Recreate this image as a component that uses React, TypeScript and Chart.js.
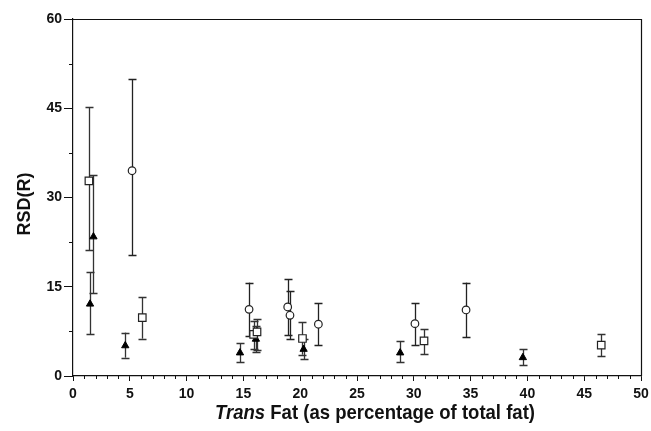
import React, { useEffect, useRef } from "react";
import { Chart, registerables } from "chart.js";

Chart.register(...registerables);

// Open squares
const sqX = [1.4, 6.1, 15.9, 16.2, 20.2, 30.9, 46.5];
const sqY = [32.8, 9.8, 7.0, 7.4, 6.3, 5.9, 5.2];
const sqLo = [21.1, 6.3, 4.6, 4.4, 3.6, 3.7, 3.4];
const sqHi = [45.2, 13.2, 9.2, 9.6, 9.0, 7.9, 7.1];

// Open circles
const ciX = [5.2, 15.5, 18.9, 19.1, 21.6, 30.1, 34.6];
const ciY = [34.5, 11.2, 11.6, 10.2, 8.7, 8.8, 11.1];
const ciLo = [20.3, 6.7, 6.9, 6.2, 5.2, 5.2, 6.6];
const ciHi = [49.9, 15.7, 16.3, 14.3, 12.2, 12.3, 15.7];

// Filled triangles
const trX = [1.5, 1.8, 4.6, 14.7, 16.1, 20.3, 28.8, 39.6];
const trY = [12.1, 23.4, 5.1, 3.9, 6.2, 4.5, 3.9, 3.1];
const trLo = [7.1, 14.0, 3.1, 2.35, 4.0, 2.8, 2.4, 1.85];
const trHi = [17.5, 33.7, 7.3, 5.5, 8.4, 6.3, 5.8, 4.5];

const xTicksMajor = [0, 5, 10, 15, 20, 25, 30, 35, 40, 45, 50];
const yTicksMajor = [0, 15, 30, 45, 60];

const xTitleItalic = "Trans";
const xTitleRest = " Fat (as percentage of total fat)";
const yTitle = "RSD(R)";

const FONT = "'Liberation Sans', Arial, sans-serif";

const pts = (xs: number[], ys: number[]) => xs.map((x, i) => ({ x, y: ys[i] }));

const decor = {
  id: "decor",
  beforeDatasetsDraw(chart: any) {
    const { ctx, scales } = chart;
    const xs = scales.x;
    const ys = scales.y;
    const series = [
      { X: sqX, lo: sqLo, hi: sqHi, color: "#333" },
      { X: ciX, lo: ciLo, hi: ciHi, color: "#222" },
      { X: trX, lo: trLo, hi: trHi, color: "#333" },
    ];
    ctx.save();
    ctx.lineWidth = 1.3;
    for (const s of series) {
      ctx.strokeStyle = s.color;
      s.X.forEach((xv: number, i: number) => {
        const px = Math.round(xs.getPixelForValue(xv)) + 0.5;
        const pl = ys.getPixelForValue(s.lo[i]);
        const ph = ys.getPixelForValue(s.hi[i]);
        ctx.beginPath();
        ctx.moveTo(px, pl);
        ctx.lineTo(px, ph);
        ctx.moveTo(px - 4, Math.round(pl) + 0.5);
        ctx.lineTo(px + 4, Math.round(pl) + 0.5);
        ctx.moveTo(px - 4, Math.round(ph) + 0.5);
        ctx.lineTo(px + 4, Math.round(ph) + 0.5);
        ctx.stroke();
      });
    }
    ctx.restore();
  },
  afterDraw(chart: any) {
    const { ctx, chartArea, scales } = chart;
    const xs = scales.x;
    const ys = scales.y;
    ctx.save();
    ctx.strokeStyle = "#111";
    ctx.lineWidth = 1.2;
    ctx.beginPath();
    ctx.moveTo(chartArea.left, chartArea.top + 0.5);
    ctx.lineTo(chartArea.right + 0.5, chartArea.top + 0.5);
    ctx.lineTo(chartArea.right + 0.5, chartArea.bottom);
    ctx.stroke();
    // minor ticks
    ctx.lineWidth = 1;
    ctx.beginPath();
    for (let v = 1; v < 50; v++) {
      if (v % 5 === 0) continue;
      const px = Math.round(xs.getPixelForValue(v)) + 0.5;
      ctx.moveTo(px, chartArea.bottom);
      ctx.lineTo(px, chartArea.bottom + 3);
    }
    for (let v = 7.5; v < 60; v += 15) {
      const py = Math.round(ys.getPixelForValue(v)) + 0.5;
      ctx.moveTo(chartArea.left, py);
      ctx.lineTo(chartArea.left - 4, py);
    }
    ctx.stroke();
    // x title (condensed bold, italic first word)
    ctx.fillStyle = "#111";
    ctx.textBaseline = "alphabetic";
    ctx.textAlign = "left";
    const fI = `italic bold 21px ${FONT}`;
    const fB = `bold 21px ${FONT}`;
    ctx.font = fI;
    const w1 = ctx.measureText(xTitleItalic).width;
    ctx.font = fB;
    const w2 = ctx.measureText(xTitleRest).width;
    const targetW = 320;
    const sx = targetW / (w1 + w2);
    const cx = (chartArea.left + chartArea.right) / 2 + 18;
    const by = chartArea.bottom + 43;
    ctx.save();
    ctx.translate(cx - targetW / 2, by);
    ctx.scale(sx, 1);
    ctx.font = fI;
    ctx.fillText(xTitleItalic, 0, 0);
    ctx.font = fB;
    ctx.fillText(xTitleRest, w1, 0);
    ctx.restore();
    // y title
    ctx.translate(30, chartArea.top + (chartArea.bottom - chartArea.top) * 0.518);
    ctx.rotate(-Math.PI / 2);
    ctx.textAlign = "center";
    ctx.font = `bold 18px ${FONT}`;
    ctx.fillText(yTitle, 0, 0);
    ctx.restore();
  },
};

export default function App() {
  const ref = useRef<HTMLCanvasElement | null>(null);
  useEffect(() => {
    if (!ref.current) return;
    const chart = new Chart(ref.current, {
      type: "scatter",
      data: {
        datasets: [
          {
            label: "squares",
            data: pts(sqX, sqY),
            pointStyle: "rect",
            pointRadius: 5.3,
            borderColor: "#222",
            backgroundColor: "#fff",
            borderWidth: 1.2,
          },
          {
            label: "circles",
            data: pts(ciX, ciY),
            pointStyle: "circle",
            pointRadius: 3.8,
            borderColor: "#222",
            backgroundColor: "#fff",
            borderWidth: 1.2,
          },
          {
            label: "triangles",
            data: pts(trX, trY),
            pointStyle: "triangle",
            pointRadius: 4.2,
            borderColor: "#000",
            backgroundColor: "#000",
            borderWidth: 1,
          },
        ],
      },
      options: {
        responsive: false,
        animation: false,
        events: [],
        layout: { padding: { top: 19, right: 10, left: 0, bottom: 0 } },
        plugins: { legend: { display: false }, tooltip: { enabled: false } },
        scales: {
          x: {
            type: "linear",
            min: 0,
            max: 50,
            afterFit: (s: any) => {
              s.height = 55;
              s.paddingRight = 0;
            },
            afterBuildTicks: (s: any) => {
              s.ticks = xTicksMajor.map((v) => ({ value: v }));
            },
            ticks: {
              color: "#111",
              font: { family: FONT, size: 14, weight: "bold" },
              padding: 5,
              maxRotation: 0,
              autoSkip: false,
            },
            grid: { drawOnChartArea: false, tickLength: 5, color: "#111", tickWidth: 1 },
            border: { display: true, color: "#111", width: 1.2 },
          },
          y: {
            type: "linear",
            min: 0,
            max: 60,
            afterFit: (s: any) => {
              s.width = 73;
            },
            afterBuildTicks: (s: any) => {
              s.ticks = yTicksMajor.map((v) => ({ value: v }));
            },
            ticks: {
              color: "#111",
              font: { family: FONT, size: 14, weight: "bold" },
              padding: 2,
              autoSkip: false,
            },
            grid: { drawOnChartArea: false, tickLength: 9, color: "#111", tickWidth: 1 },
            border: { display: true, color: "#111", width: 1.2 },
          },
        },
      },
      plugins: [decor],
    } as any);
    return () => chart.destroy();
  }, []);
  return (
    <div style={{ position: "absolute", left: 0, top: 0, width: 651, height: 431, background: "#fff" }}>
      <canvas ref={ref} width={651} height={431} style={{ display: "block" }} />
    </div>
  );
}
